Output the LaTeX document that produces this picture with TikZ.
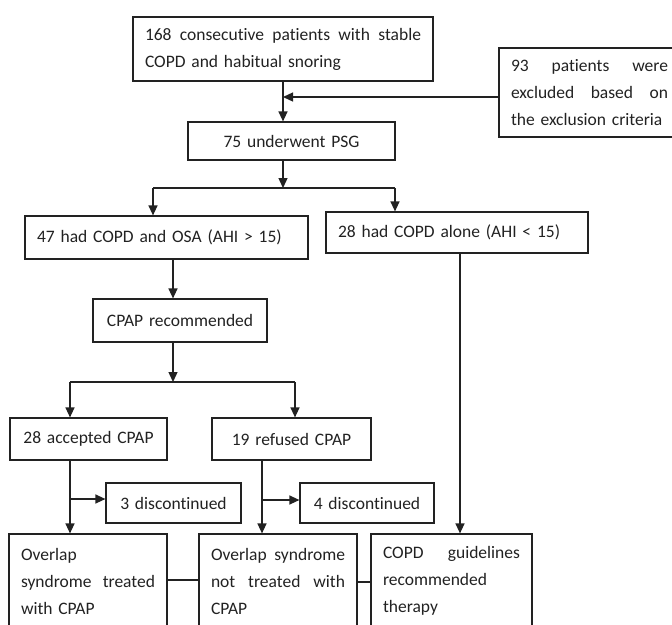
\documentclass[tikz,border=0pt]{standalone}
\usepackage{fontspec}
\setmainfont{Carlito}[Ligatures=NoCommon]
\usetikzlibrary{arrows.meta}
\definecolor{ink}{HTML}{222222}
\newcommand\jl[2]{\makebox[#1][s]{\spaceskip=\fontdimen2\font plus 1fil\relax #2}}
\begin{document}
\begin{tikzpicture}[x=1pt,y=-1pt,
  box/.style={draw=ink, line width=1.2pt, text=ink, inner xsep=12pt, inner ysep=0pt,
    font=\fontsize{17.5}{27}\selectfont, anchor=center},
  cbox/.style={box, align=center},
  lbox/.style={box, align=left},
  conn/.style={draw=ink, line width=1.3pt},
  arr/.style={conn, -{Triangle[length=10pt,width=9pt]}}]
\useasboundingbox (0,0) rectangle (672,624);
\fill[white] (0,0) rectangle (672,624);
\clip (0,0) rectangle (672,624);
% boxes
\node[lbox, text width=276pt, minimum width=300pt, minimum height=64pt] (b1) at (283,49)
  {\jl{276pt}{168 consecutive patients with stable}\\COPD and habitual snoring};
\node[lbox, text width=157pt, minimum width=181pt, minimum height=89pt] (ex) at (589.5,92.5)
  {\jl{157pt}{93 patients were}\\\jl{157pt}{excluded based on}\\the exclusion criteria};
\node[cbox, text width=183pt, minimum width=207pt, minimum height=38pt] (b2) at (291.5,141) {75 underwent PSG};
\node[lbox, text width=259pt, minimum width=283pt, minimum height=43pt] (b47) at (166.5,237.5) {47 had COPD and OSA (AHI > 15)};
\node[lbox, text width=238pt, minimum width=262pt, minimum height=41pt] (b28) at (457,232.5) {28 had COPD alone (AHI < 15)};
\node[cbox, text width=150pt, minimum width=174pt, minimum height=43pt] (cp) at (180,320.5) {CPAP recommended};
\node[cbox, text width=133pt, minimum width=157pt, minimum height=42pt] (acc) at (88.5,439) {28 accepted CPAP};
\node[cbox, text width=135pt, minimum width=159pt, minimum height=42pt] (ref) at (291.5,439) {19 refused CPAP};
\node[cbox, text width=111pt, minimum width=135pt, minimum height=40pt] (d3) at (173.5,503) {3 discontinued};
\node[cbox, text width=110pt, minimum width=134pt, minimum height=40pt] (d4) at (367,503) {4 discontinued};
\node[lbox, text width=134pt, minimum width=158pt, minimum height=94pt] (ov1) at (88,581)
  {Overlap\\\jl{134pt}{syndrome treated}\\with CPAP};
\node[lbox, text width=134pt, minimum width=158pt, minimum height=94pt] (ov2) at (278,581)
  {\jl{134pt}{Overlap syndrome}\\\jl{134pt}{not treated with}\\CPAP};
\node[lbox, text width=137pt, minimum width=161pt, minimum height=94pt] (cg) at (451.5,581)
  {\jl{137pt}{COPD guidelines}\\recommended\\therapy};
% junction coordinates
\coordinate (xa) at (283,97);
\coordinate (j1) at (283,188);
\coordinate (j1l) at (153,188);
\coordinate (j1r) at (395,188);
\coordinate (j2) at (173,382);
\coordinate (j2l) at (70,382);
\coordinate (j2r) at (295,382);
\coordinate (s1) at (70,499);
\coordinate (s2) at (262,500);
\coordinate (s3) at (460,300);
\coordinate (h1) at (180,580);
\coordinate (h2) at (365,582);
% connectors
\draw[arr] (b1.south) -- (b1.south |- b2.north);
\draw[arr] (ex.west |- xa) -- (xa);
\draw[arr] (b2.south -| j1) -- (j1);
\draw[conn] (j1l) -- (j1r);
\draw[arr] (j1l) -- (j1l |- b47.north);
\draw[arr] (j1r) -- (j1r |- b28.north);
\draw[arr] (b47.south -| j2) -- (cp.north -| j2);
\draw[arr] (cp.south -| j2) -- (j2);
\draw[conn] (j2l) -- (j2r);
\draw[arr] (j2l) -- (j2l |- acc.north);
\draw[arr] (j2r) -- (j2r |- ref.north);
\draw[arr] (acc.south -| s1) -- (s1 |- ov1.north);
\draw[arr] (s1) -- (d3.west |- s1);
\draw[arr] (ref.south -| s2) -- (s2 |- ov2.north);
\draw[arr] (s2) -- (d4.west |- s2);
\draw[arr] (b28.south -| s3) -- (s3 |- cg.north);
\draw[conn] (ov1.east |- h1) -- (ov2.west |- h1);
\draw[conn] (ov2.east |- h2) -- (cg.west |- h2);
\end{tikzpicture}
\end{document}
